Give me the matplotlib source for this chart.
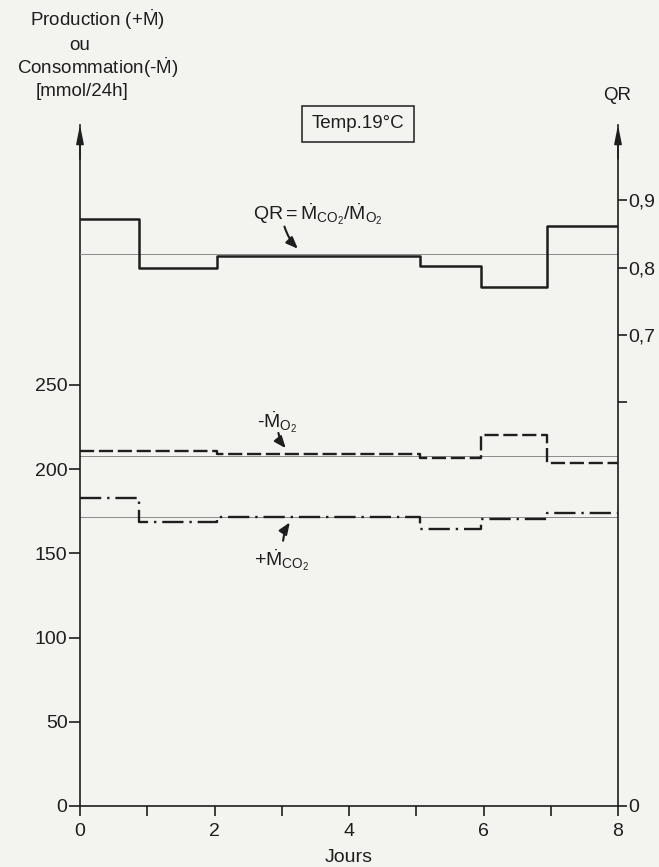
import matplotlib
matplotlib.use('Agg')
import matplotlib.pyplot as plt

plt.rcParams['font.family'] = ['Liberation Sans', 'DejaVu Sans']
plt.rcParams['font.size'] = 13.5
plt.rcParams['mathtext.fontset'] = 'custom'
plt.rcParams['mathtext.rm'] = 'Liberation Sans'
plt.rcParams['mathtext.it'] = 'Liberation Sans:italic'
plt.rcParams['mathtext.bf'] = 'Liberation Sans:bold'

# step limits (days) and values of each step
days = [0, 0.88, 2.03, 5.05, 5.96, 6.95, 8]
qr = [0.872, 0.799, 0.817, 0.802, 0.771, 0.862]
m_o2 = [210.8, 210.8, 208.8, 206.4, 220.3, 203.9]
m_co2 = [183.0, 168.4, 171.8, 164.5, 170.3, 173.8]

# mean levels (thin lines)
qr_mean = 0.82
o2_mean = 207.8
co2_mean = 171.6

left_ticks = [0, 50, 100, 150, 200, 250]
right_ticks = [0, 0.6, 0.7, 0.8, 0.9]
right_labels = ['0', '', '0,7', '0,8', '0,9']
x_ticks = list(range(0, 9))
x_labels = ['0', '', '2', '', '4', '', '6', '', '8']

ink = '#1e1e1e'
paper = '#f3f3f0'

fig = plt.figure(figsize=(6.59, 8.67), dpi=100, facecolor=paper)
ax = fig.add_axes([0.1214, 0.0704, 0.8164, 0.7855])
ax.set_facecolor('none')
ax2 = ax.twinx()
ax2.set_facecolor('none')

ax.set_xlim(0, 8)
ax.set_ylim(0, 404.4)
ax2.set_ylim(0, 1.012)

# mean lines
ax.axhline(o2_mean, color='#8a8a8a', lw=0.7)
ax.axhline(co2_mean, color='#8a8a8a', lw=0.7)
ax2.axhline(qr_mean, color='#8a8a8a', lw=0.7)

# data steps
ax.step(days, m_o2 + [m_o2[-1]], where='post', color=ink, lw=1.7,
        linestyle=(0, (6, 2)))
ax.step(days, m_co2 + [m_co2[-1]], where='post', color=ink, lw=1.7,
        linestyle=(0, (9, 2.5, 1, 2.5)))
ax2.step(days, qr + [qr[-1]], where='post', color=ink, lw=1.8)

# spines
for s in ['top', 'right']:
    ax.spines[s].set_visible(False)
for s in ['top', 'left', 'bottom']:
    ax2.spines[s].set_visible(False)
for s in ['left', 'bottom']:
    ax.spines[s].set_linewidth(1.2)
    ax.spines[s].set_color(ink)
ax2.spines['right'].set_linewidth(1.2)
ax2.spines['right'].set_color(ink)

ax.set_xticks(x_ticks)
ax.set_xticklabels(x_labels)
ax.set_yticks(left_ticks)
ax.tick_params(axis='x', direction='out', length=7, width=1.2, pad=5, colors=ink,
               labelsize=14)
ax.tick_params(axis='y', direction='out', length=8, width=1.2, pad=1, colors=ink,
               labelsize=14)
ax2.set_yticks(right_ticks)
ax2.set_yticklabels(right_labels)
ax2.tick_params(axis='y', direction='out', length=6.5, width=1.2, pad=1, colors=ink,
                labelsize=14)

# arrow heads on the vertical axes
for xa in [0, 1]:
    ax.annotate('', xy=(xa, 1.0), xycoords='axes fraction', xytext=(xa, 0.95),
                arrowprops=dict(arrowstyle='-|>,head_length=1.1,head_width=0.22',
                                lw=1.2, color=ink, mutation_scale=10,
                                shrinkA=0, shrinkB=0),
                annotation_clip=False)

ax.set_xlabel('Jours', labelpad=7, color=ink, fontsize=14)

# axis titles
fig.text(97 / 659, 1 - 20 / 867, 'Production (+' + r'$\dot{\mathrm{M}}$' + ')',
         ha='center', va='center', color=ink)
fig.text(80 / 659, 1 - 45 / 867, 'ou', ha='center', va='center', color=ink)
fig.text(98 / 659, 1 - 68 / 867, 'Consommation(-' + r'$\dot{\mathrm{M}}$' + ')',
         ha='center', va='center', color=ink)
fig.text(82 / 659, 1 - 92 / 867, '[mmol/24h]', ha='center', va='center', color=ink)
fig.text(617 / 659, 1 - 96 / 867, 'QR', ha='center', va='center', color=ink)

fig.text(358 / 659, 1 - 124 / 867, 'Temp.19°C', ha='center', va='center', color=ink,
         bbox=dict(boxstyle='square,pad=0.5', fc='none', ec=ink, lw=1.1))

# curve labels with their small arrows
arrow = dict(arrowstyle='-|>,head_length=0.7,head_width=0.28', color=ink, lw=1.5,
             mutation_scale=10, shrinkA=0, shrinkB=0,
             connectionstyle='arc3,rad=0.12')
ax2.text(3.54, 0.880,
         'QR' + r'$=\dot{\mathrm{M}}_{\mathrm{CO}_2}/\dot{\mathrm{M}}_{\mathrm{O}_2}$',
         ha='center', va='center', color=ink, fontsize=14)
ax2.annotate('', xy=(3.24, 0.828), xytext=(3.04, 0.861), arrowprops=arrow)

ax.text(2.94, 228.0, '-' + r'$\dot{\mathrm{M}}_{\mathrm{O}_2}$',
        ha='center', va='center', color=ink, fontsize=14)
ax.annotate('', xy=(3.06, 212.4), xytext=(2.95, 221.5), arrowprops=arrow)

ax.text(3.0, 146.0, '+' + r'$\dot{\mathrm{M}}_{\mathrm{CO}_2}$',
        ha='center', va='center', color=ink, fontsize=14)
ax.annotate('', xy=(3.12, 168.4), xytext=(3.02, 157.5),
            arrowprops=dict(arrow, connectionstyle='arc3,rad=-0.12'))

fig.savefig('out.png', dpi=100, facecolor=paper)
